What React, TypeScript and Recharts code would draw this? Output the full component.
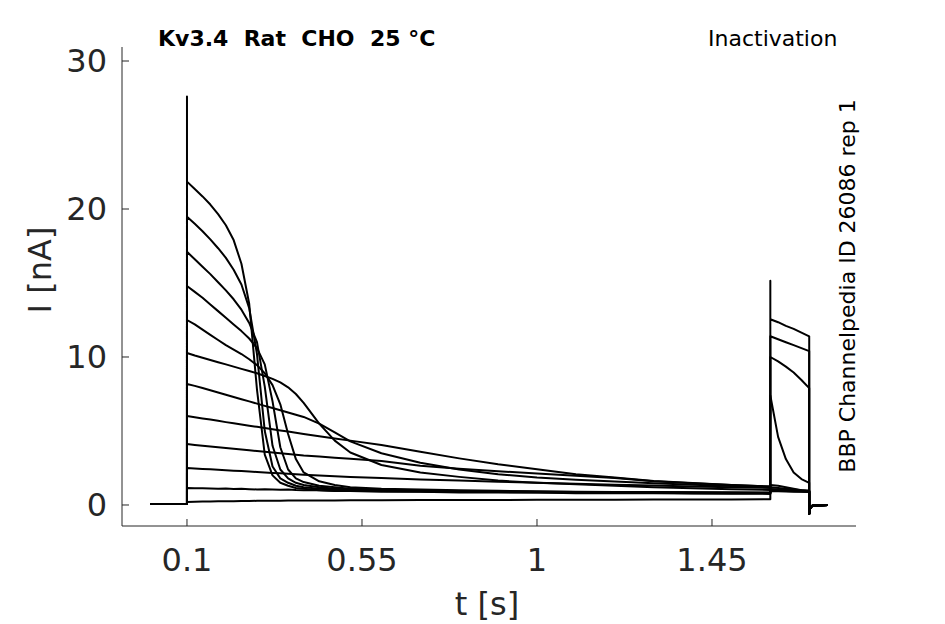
import { LineChart, Line, XAxis, YAxis } from 'recharts';

// time grids (s)
const PRE_T = [0.005, 0.1];
const PRE_I = [0.07, 0.07];
const PULSE_T = [
  0.1, 0.12, 0.14, 0.16, 0.18, 0.2, 0.22, 0.24, 0.26, 0.28, 0.3, 0.32, 0.34, 0.36, 0.38, 0.4,
  0.44, 0.48, 0.52, 0.6, 0.7, 0.8, 0.9, 1.0, 1.1, 1.2, 1.3, 1.4, 1.5, 1.6,
];
const TEST_T = [1.6, 1.62, 1.64, 1.66, 1.68, 1.7];
const TAIL_T = [1.7, 1.702, 1.708, 1.748];
const TAIL_I = [-0.6, -0.25, -0.05, 0.0];

const ON_SPIKE = 27.6;
const TEST_SPIKE = 15.15;

// prepulse currents (nA), one array per sweep
const pulseA = [21.85, 21.35, 20.85, 20.3, 19.65, 18.9, 17.9, 16.3, 13.6, 7.8, 3.4, 2.0, 1.5, 1.3, 1.15, 1.1, 1.0, 0.95, 0.95, 0.9, 0.9, 0.85, 0.85, 0.85, 0.8, 0.8, 0.8, 0.78, 0.76, 0.75];
const pulseB = [19.48, 19.0, 18.5, 17.95, 17.35, 16.7, 15.9, 14.9, 13.3, 10.2, 5.0, 2.6, 1.8, 1.5, 1.3, 1.2, 1.1, 1.05, 1.0, 0.95, 0.92, 0.9, 0.87, 0.85, 0.85, 0.83, 0.82, 0.8, 0.8, 0.8];
const pulseC = [17.11, 16.6, 16.1, 15.6, 15.05, 14.5, 13.9, 13.2, 12.3, 11.0, 8.0, 4.0, 2.4, 1.8, 1.5, 1.35, 1.2, 1.1, 1.05, 1.0, 0.95, 0.92, 0.9, 0.88, 0.86, 0.85, 0.84, 0.82, 0.82, 0.81];
const pulseD = [14.8, 14.4, 14.0, 13.55, 13.1, 12.65, 12.2, 11.75, 11.25, 10.6, 9.5, 7.0, 3.9, 2.4, 1.8, 1.55, 1.3, 1.2, 1.1, 1.05, 1.0, 0.95, 0.92, 0.9, 0.88, 0.86, 0.85, 0.84, 0.83, 0.82];
const pulseE = [12.5, 12.2, 11.85, 11.5, 11.15, 10.8, 10.5, 10.2, 9.85, 9.45, 8.9, 8.1, 6.8, 4.8, 3.1, 2.2, 1.6, 1.35, 1.2, 1.1, 1.05, 1.0, 0.96, 0.93, 0.9, 0.88, 0.87, 0.86, 0.85, 0.84];
const pulseF = [10.27, 10.1, 9.95, 9.8, 9.65, 9.5, 9.35, 9.2, 9.05, 8.9, 8.72, 8.52, 8.28, 7.95, 7.5, 6.9, 5.5, 4.35, 3.55, 2.7, 2.2, 1.9, 1.65, 1.5, 1.4, 1.3, 1.2, 1.13, 1.07, 1.02];
const pulseG = [8.18, 8.05, 7.9, 7.75, 7.6, 7.45, 7.3, 7.15, 7.0, 6.85, 6.7, 6.55, 6.4, 6.25, 6.1, 5.95, 5.5, 4.9, 4.3, 3.5, 2.85, 2.4, 2.08, 1.86, 1.7, 1.58, 1.47, 1.37, 1.28, 1.2];
const pulseH = [6.01, 5.93, 5.85, 5.77, 5.69, 5.6, 5.52, 5.44, 5.36, 5.28, 5.2, 5.12, 5.04, 4.96, 4.88, 4.8, 4.65, 4.5, 4.35, 4.05, 3.6, 3.15, 2.75, 2.42, 2.08, 1.85, 1.62, 1.48, 1.35, 1.25];
const pulseI = [4.12, 4.06, 4.0, 3.95, 3.9, 3.85, 3.8, 3.75, 3.7, 3.65, 3.6, 3.55, 3.5, 3.45, 3.4, 3.35, 3.28, 3.2, 3.12, 2.98, 2.65, 2.45, 2.28, 2.12, 1.97, 1.83, 1.6, 1.47, 1.35, 1.25];
const pulseJ = [2.5, 2.47, 2.44, 2.41, 2.38, 2.35, 2.32, 2.29, 2.26, 2.23, 2.2, 2.17, 2.14, 2.11, 2.08, 2.05, 2.0, 1.95, 1.9, 1.82, 1.73, 1.65, 1.57, 1.5, 1.43, 1.37, 1.31, 1.25, 1.2, 1.15];
const pulseK = [1.15, 1.13, 1.14, 1.12, 1.1, 1.11, 1.08, 1.09, 1.07, 1.05, 1.06, 1.04, 1.03, 1.04, 1.01, 1.0, 0.99, 0.97, 0.98, 0.95, 0.93, 0.92, 0.9, 0.88, 0.87, 0.85, 0.85, 0.83, 0.82, 0.81];
const pulseL = [0.2, 0.22, 0.23, 0.24, 0.25, 0.25, 0.26, 0.27, 0.27, 0.28, 0.28, 0.29, 0.29, 0.3, 0.3, 0.3, 0.31, 0.31, 0.32, 0.32, 0.33, 0.34, 0.34, 0.35, 0.36, 0.36, 0.37, 0.38, 0.38, 0.39];

// test pulse currents (nA)
const testA = [0.95, 0.93, 0.92, 0.9, 0.89, 0.88];
const testB = [0.98, 0.96, 0.94, 0.93, 0.91, 0.9];
const testC = [1.0, 0.98, 0.96, 0.94, 0.93, 0.92];
const testD = [1.02, 1.0, 0.98, 0.96, 0.94, 0.93];
const testE = [1.05, 1.02, 1.0, 0.98, 0.96, 0.95];
const testF = [1.08, 1.05, 1.02, 1.0, 0.98, 0.96];
const testG = [1.2, 1.15, 1.1, 1.05, 1.0, 0.97];
const testH = [1.35, 1.3, 1.2, 1.1, 1.0, 0.92];
const testI = [7.4, 4.6, 3.1, 2.2, 1.75, 1.5];
const testJ = [10.0, 9.7, 9.35, 8.95, 8.45, 7.9];
const testK = [11.4, 11.2, 11.0, 10.8, 10.6, 10.4];
const testL = [12.55, 12.35, 12.1, 11.9, 11.65, 11.4];

const X_TICKS = [0.1, 0.55, 1, 1.45];
const Y_TICKS = [0, 10, 20, 30];

type Pt = { t: number; i: number };

function buildSweep(pulse: number[], test: number[], onSpike?: number, testSpike?: number): Pt[] {
  const pts: Pt[] = PRE_T.map((t, k) => ({ t, i: PRE_I[k] }));
  if (onSpike !== undefined) pts.push({ t: PULSE_T[0], i: onSpike });
  PULSE_T.forEach((t, k) => pts.push({ t, i: pulse[k] }));
  if (testSpike !== undefined) pts.push({ t: TEST_T[0], i: testSpike });
  TEST_T.forEach((t, k) => pts.push({ t, i: test[k] }));
  TAIL_T.forEach((t, k) => pts.push({ t, i: TAIL_I[k] }));
  return pts;
}

const SWEEPS: Pt[][] = [
  buildSweep(pulseA, testA, ON_SPIKE),
  buildSweep(pulseB, testB),
  buildSweep(pulseC, testC),
  buildSweep(pulseD, testD),
  buildSweep(pulseE, testE),
  buildSweep(pulseF, testF),
  buildSweep(pulseG, testG),
  buildSweep(pulseH, testH),
  buildSweep(pulseI, testI),
  buildSweep(pulseJ, testJ),
  buildSweep(pulseK, testK),
  buildSweep(pulseL, testL, undefined, TEST_SPIKE),
];

const FONT = '"DejaVu Sans", sans-serif';
const AXIS = '#262626';
const TICK_FS = 32;

function XTick({ x, y, payload }: any) {
  return (
    <g>
      <line x1={x} x2={x} y1={y} y2={y - 7} stroke={AXIS} strokeWidth={1} />
      <text x={x} y={y + 34} textAnchor="middle" dominantBaseline="central" fontSize={TICK_FS} fontFamily={FONT} fill={AXIS}>
        {payload.value}
      </text>
    </g>
  );
}

function YTick({ x, y, payload }: any) {
  return (
    <g>
      <line x1={x} x2={x + 7} y1={y} y2={y} stroke={AXIS} strokeWidth={1} />
      <text x={x - 15} y={y} textAnchor="end" dominantBaseline="central" fontSize={TICK_FS} fontFamily={FONT} fill={AXIS}>
        {payload.value}
      </text>
    </g>
  );
}

export default function App() {
  return (
    <div style={{ position: 'absolute', left: 0, top: 0, width: 945, height: 624, background: '#fff', fontFamily: FONT }}>
      <LineChart width={945} height={624} margin={{ top: 47, right: 89, bottom: 58, left: 62 }}>
        <XAxis
          type="number"
          dataKey="t"
          domain={[-0.0671, 1.8203]}
          ticks={X_TICKS}
          allowDataOverflow
          height={40}
          tickSize={0}
          tickMargin={0}
          tickLine={false}
          axisLine={{ stroke: AXIS, strokeWidth: 1 }}
          tick={<XTick />}
          interval={0}
        />
        <YAxis
          type="number"
          domain={[-1.419, 30.946]}
          ticks={Y_TICKS}
          allowDataOverflow
          width={60}
          tickSize={0}
          tickMargin={0}
          tickLine={false}
          axisLine={{ stroke: AXIS, strokeWidth: 1 }}
          tick={<YTick />}
          interval={0}
        />
        {SWEEPS.map((d, k) => (
          <Line
            key={k}
            data={d}
            dataKey="i"
            type="linear"
            stroke="#000"
            strokeWidth={2}
            strokeLinejoin="round"
            dot={false}
            activeDot={false}
            isAnimationActive={false}
          />
        ))}
      </LineChart>

      <div style={{ position: 'absolute', left: 158, top: 28, fontSize: 22, fontWeight: 'bold', lineHeight: 1, whiteSpace: 'pre', color: '#000' }}>
        Kv3.4  Rat  CHO  25 °C
      </div>
      <div style={{ position: 'absolute', left: 708, top: 28, fontSize: 22, lineHeight: 1, whiteSpace: 'pre', color: '#000' }}>
        Inactivation
      </div>
      <div
        style={{
          position: 'absolute',
          left: 848,
          top: 286,
          fontSize: 22,
          lineHeight: 1,
          whiteSpace: 'pre',
          color: '#000',
          transform: 'translate(-50%, -50%) rotate(-90deg)',
        }}
      >
        BBP Channelpedia ID 26086 rep 1
      </div>
      <div
        style={{
          position: 'absolute',
          left: 40,
          top: 270,
          fontSize: 32,
          lineHeight: 1,
          whiteSpace: 'pre',
          color: AXIS,
          transform: 'translate(-50%, -50%) rotate(-90deg)',
        }}
      >
        I [nA]
      </div>
      <div
        style={{
          position: 'absolute',
          left: 487,
          top: 604,
          fontSize: 32,
          lineHeight: 1,
          whiteSpace: 'pre',
          color: AXIS,
          transform: 'translate(-50%, -50%)',
        }}
      >
        t [s]
      </div>
    </div>
  );
}
